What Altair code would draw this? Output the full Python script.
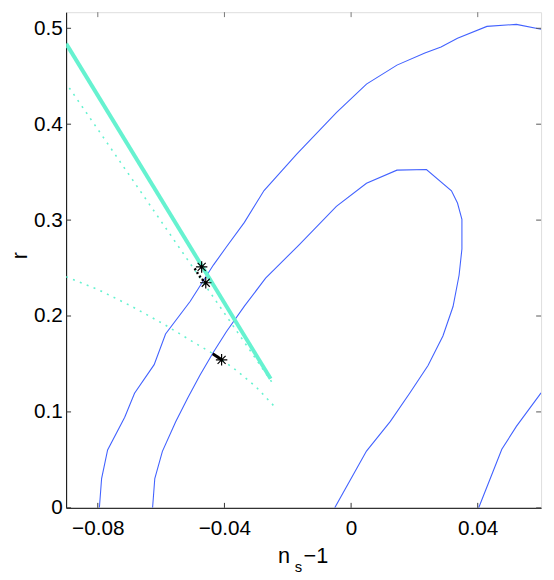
import altair as alt
import pandas as pd

# ---- data ----
outer_x = [-0.0795, -0.0788, -0.0769, -0.0715, -0.0684, -0.0622, -0.0586, -0.0508, -0.0435,
           -0.0394, -0.0337, -0.0275, -0.0171, -0.00465, 0.00486, 0.01448, 0.0233, 0.0284,
           0.0336, 0.0429, 0.0522, 0.0600]
outer_y = [0.0, 0.0305, 0.0603, 0.0945, 0.1195, 0.1493, 0.1812, 0.2154, 0.2531,
           0.2719, 0.2976, 0.3308, 0.3690, 0.412, 0.4418, 0.4616, 0.4743, 0.4805,
           0.4897, 0.5020, 0.5041, 0.4990]

inner_x = [-0.0627, -0.0620, -0.0596, -0.0554, -0.0516, -0.0477, -0.0435, -0.0394, -0.0337,
           -0.0270, -0.0165, -0.00465, 0.00486, 0.01448, 0.0238, 0.0317, 0.0336, 0.0350,
           0.0350, 0.0341, 0.0322, 0.0290, 0.0243, 0.0186, 0.0124, 0.00486, -0.00517]
inner_y = [0.0, 0.0305, 0.0589, 0.0897, 0.1144, 0.1384, 0.1623, 0.1836, 0.2103,
           0.2394, 0.2740, 0.3144, 0.3384, 0.3521, 0.3527, 0.3305, 0.3178, 0.3007,
           0.2699, 0.2425, 0.2099, 0.1791, 0.1483, 0.1199, 0.0901, 0.0592, 0.0]

corner_x = [0.0403, 0.0476, 0.0522, 0.0600]
corner_y = [0.0, 0.061, 0.0849, 0.1199]

solid_x = [-0.0900, -0.0254]
solid_y = [0.4840, 0.1346]

dot1_x = [-0.0890, -0.0247]
dot1_y = [0.4378, 0.1295]

dot2_x = [-0.0900, -0.0798, -0.0694, -0.0591, -0.0497, -0.0435, -0.0363, -0.0301, -0.0236]
dot2_y = [0.2410, 0.2274, 0.2103, 0.1914, 0.1726, 0.1606, 0.1435, 0.1264, 0.1035]

blackdot_x = [-0.0494, -0.0480, -0.0463]
blackdot_y = [0.2497, 0.2420, 0.2354]

seg_x = [-0.0437, -0.0409]
seg_y = [0.1606, 0.1545]

star_x = [-0.0472, -0.0459, -0.0409]
star_y = [0.2512, 0.2347, 0.1543]

x_ticks = [-0.08, -0.04, 0.0, 0.04]
y_ticks = [0.0, 0.1, 0.2, 0.3, 0.4, 0.5]

XDOM = [-0.09, 0.06]
YDOM = [0.0, 0.5168]
W, H = 482, 503
FONT = "Liberation Sans"
BLUE = "#4262ff"
CYAN = "#66f2d0"


def path_df(xs, ys):
    return pd.DataFrame({"x": xs, "y": ys, "i": list(range(len(xs)))})


xs = alt.Scale(domain=XDOM, nice=False, zero=False)
ys = alt.Scale(domain=YDOM, nice=False, zero=False)

X = alt.X("x:Q", scale=xs, axis=alt.Axis(
    values=x_ticks, ticks=False, grid=False, domainColor="black", domainWidth=1,
    labelFont=FONT, labelFontSize=21, labelColor="black", labelPadding=10,
    labelFlush=False,
    labelExpr="datum.value == 0 ? '0' : replace(format(datum.value, '.2f'), '-', '\u2212')",
    title=None))
Y = alt.Y("y:Q", scale=ys, axis=alt.Axis(
    values=y_ticks, ticks=False, grid=False, domainColor="black", domainWidth=1,
    labelFont=FONT, labelFontSize=21, labelColor="black", labelPadding=4,
    labelFlush=False,
    labelExpr="datum.value == 0 ? '0' : format(datum.value, '.1f')",
    title=None))


def line(xs_, ys_, color, width, dash=None):
    kw = dict(color=color, strokeWidth=width, clip=True)
    if dash:
        kw["strokeDash"] = dash
        kw["strokeCap"] = "butt"
    return alt.Chart(path_df(xs_, ys_)).mark_line(**kw).encode(
        x=X, y=Y, order="i:Q")


outer = line(outer_x, outer_y, BLUE, 1.1)
inner = line(inner_x, inner_y, BLUE, 1.1)
corner = line(corner_x, corner_y, BLUE, 1.1)
dot1 = line(dot1_x, dot1_y, CYAN, 1.6, dash=[2, 5.5])
dot2 = line(dot2_x, dot2_y, CYAN, 1.6, dash=[2, 5.5])
solid = line(solid_x, solid_y, CYAN, 4)
bdots = line(blackdot_x, blackdot_y, "black", 2.5, dash=[2, 2.5])
seg = line(seg_x, seg_y, "black", 3)

ASTER = "M-1,0L1,0M0,-1L0,1M-0.7,-0.7L0.7,0.7M-0.7,0.7L0.7,-0.7"
stars = alt.Chart(pd.DataFrame({"x": star_x, "y": star_y})).mark_point(
    shape=ASTER, size=135, filled=False, stroke="black", strokeWidth=1.2, opacity=1
).encode(x=X, y=Y)

# inward ticks
xt = pd.DataFrame({"x": x_ticks})
yt = pd.DataFrame({"y": y_ticks})
tb = alt.Chart(xt).mark_rule(color="#333", strokeWidth=1).encode(
    x=X, y=alt.value(H), y2=alt.value(H - 5))
tt = alt.Chart(xt).mark_rule(color="#777", strokeWidth=1).encode(
    x=X, y=alt.value(0), y2=alt.value(5))
tl = alt.Chart(yt).mark_rule(color="#333", strokeWidth=1).encode(
    y=Y, x=alt.value(0), x2=alt.value(5))
tr = alt.Chart(yt).mark_rule(color="#555", strokeWidth=1).encode(
    y=Y, x=alt.value(W), x2=alt.value(W - 5))

# axis titles
t_n = alt.Chart().mark_text(text="n", font=FONT, fontSize=22, align="left",
                            baseline="alphabetic", color="black").encode(
    x=alt.value(215), y=alt.value(559))
t_s = alt.Chart().mark_text(text="s", font=FONT, fontSize=15, align="left",
                            baseline="alphabetic", color="black").encode(
    x=alt.value(232), y=alt.value(568))
t_m = alt.Chart().mark_text(text="\u22121", font=FONT, fontSize=22, align="left",
                            baseline="alphabetic", color="black").encode(
    x=alt.value(241), y=alt.value(559))
t_r = alt.Chart().mark_text(text="r", font=FONT, fontSize=22, align="center",
                            baseline="middle", angle=270, color="black").encode(
    x=alt.value(-47), y=alt.value(247))

chart = alt.layer(
    outer, inner, corner, dot1, dot2, solid, bdots, seg, stars,
    tb, tt, tl, tr, t_n, t_s, t_m, t_r
).properties(
    width=W, height=H,
    padding={"left": 59, "top": 0, "right": 5, "bottom": 68},
    autosize=alt.AutoSizeParams(type="none"),
).configure_view(
    stroke="#808080", strokeWidth=1
).configure(background="white")

chart.save("out.html", embed_options={"renderer": "svg", "actions": False})
